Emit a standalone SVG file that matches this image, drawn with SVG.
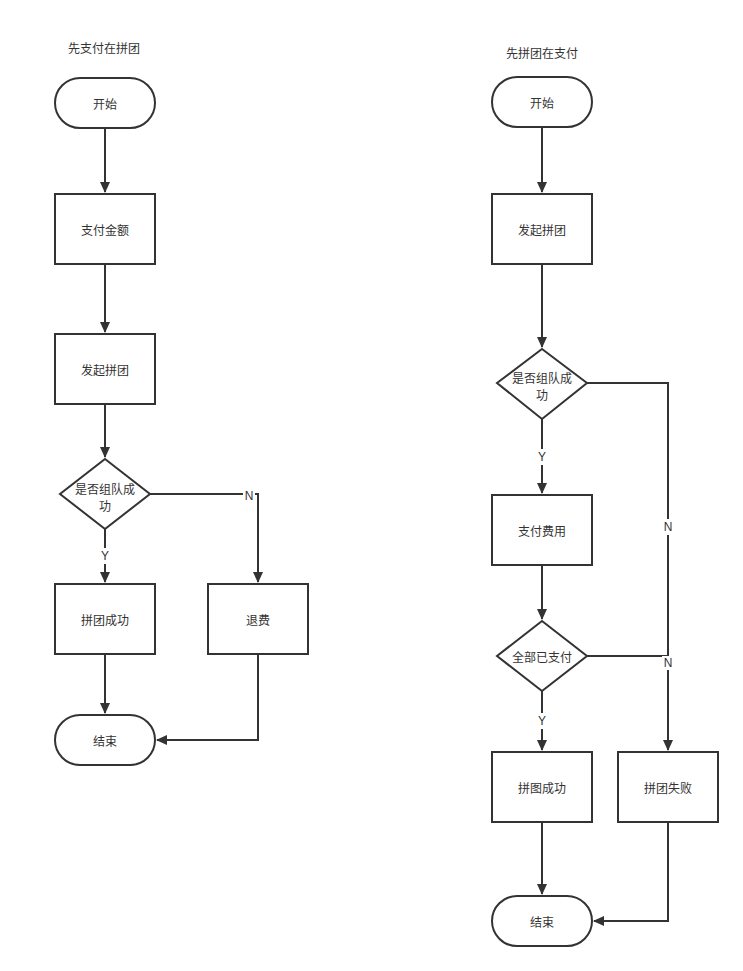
<svg xmlns="http://www.w3.org/2000/svg" width="743" height="971" viewBox="0 0 743 971">
<style>
.s{fill:#fff;stroke:#333;stroke-width:2}
.t{font-family:"Noto Sans CJK SC","Liberation Sans",sans-serif;font-size:12px;fill:#333;text-anchor:middle;dominant-baseline:central}
.e{fill:none;stroke:#333;stroke-width:2}
.l{font-family:"Liberation Sans","Noto Sans CJK SC",sans-serif;font-size:12px;fill:#333;text-anchor:middle;dominant-baseline:central}
.lb{fill:#fff}
</style>
<defs>
<marker id="a" markerWidth="12" markerHeight="12" refX="10" refY="6" orient="auto" markerUnits="userSpaceOnUse">
<path d="M0,1 L11,6 L0,11 Z" fill="#333"/>
</marker>
</defs>
<rect width="743" height="971" fill="#fff"/>
<text class="t" x="104" y="47">先支付在拼团</text>
<text class="t" x="542" y="52">先拼团在支付</text>
<g id="connectors">
<path class="e" d="M105,128 V192" marker-end="url(#a)"/>
<path class="e" d="M105,264 V332" marker-end="url(#a)"/>
<path class="e" d="M105,404 V457" marker-end="url(#a)"/>
<path class="e" d="M105,529 V582" marker-end="url(#a)"/>
<path class="e" d="M150,494 H258 V582" marker-end="url(#a)"/>
<path class="e" d="M105,654 V713" marker-end="url(#a)"/>
<path class="e" d="M258,654 V740 H157" marker-end="url(#a)"/>
<path class="e" d="M542,127 V192" marker-end="url(#a)"/>
<path class="e" d="M542,264 V347" marker-end="url(#a)"/>
<path class="e" d="M542,419 V493" marker-end="url(#a)"/>
<path class="e" d="M587,383 H668 V750" marker-end="url(#a)"/>
<path class="e" d="M542,565 V619" marker-end="url(#a)"/>
<path class="e" d="M542,691 V750" marker-end="url(#a)"/>
<path class="e" d="M587,656 H668"/>
<path class="e" d="M542,822 V894" marker-end="url(#a)"/>
<path class="e" d="M668,822 V921 H594" marker-end="url(#a)"/>
<rect class="lb" x="99" y="548" width="12" height="16"/>
<text class="l" x="105" y="556">Y</text>
<rect class="lb" x="243" y="488" width="12" height="14"/>
<text class="l" x="249" y="496">N</text>
<rect class="lb" x="536" y="449" width="12" height="16"/>
<text class="l" x="542" y="457">Y</text>
<rect class="lb" x="662" y="519" width="12" height="16"/>
<text class="l" x="668" y="527">N</text>
<rect class="lb" x="536" y="713" width="12" height="16"/>
<text class="l" x="542" y="721">Y</text>
<rect class="lb" x="662" y="656" width="12" height="14"/>
<text class="l" x="668" y="663">N</text>
</g>
<g id="L_start"><rect class="s" x="55" y="78" width="100" height="50" rx="25"/><text class="t" x="105" y="103">开始</text></g>
<g id="L_pay"><rect class="s" x="55" y="194" width="100" height="70"/><text class="t" x="105" y="229">支付金额</text></g>
<g id="L_group"><rect class="s" x="55" y="334" width="100" height="70"/><text class="t" x="105" y="369">发起拼团</text></g>
<g id="L_dec"><path class="s" d="M105,459 L150,494 L105,529 L60,494 Z"/><text class="t" x="105" y="488">是否组队成</text><text class="t" x="105" y="505">功</text></g>
<g id="L_ok"><rect class="s" x="55" y="584" width="100" height="70"/><text class="t" x="105" y="619">拼团成功</text></g>
<g id="L_refund"><rect class="s" x="208" y="584" width="100" height="70"/><text class="t" x="258" y="619">退费</text></g>
<g id="L_end"><rect class="s" x="55" y="715" width="100" height="50" rx="25"/><text class="t" x="105" y="740">结束</text></g>
<g id="R_start"><rect class="s" x="492" y="77" width="100" height="50" rx="25"/><text class="t" x="542" y="102">开始</text></g>
<g id="R_group"><rect class="s" x="492" y="194" width="100" height="70"/><text class="t" x="542" y="229">发起拼团</text></g>
<g id="R_dec1"><path class="s" d="M542,349 L587,383 L542,419 L497,383 Z"/><text class="t" x="542" y="377">是否组队成</text><text class="t" x="542" y="394">功</text></g>
<g id="R_pay"><rect class="s" x="492" y="495" width="100" height="70"/><text class="t" x="542" y="530">支付费用</text></g>
<g id="R_dec2"><path class="s" d="M542,621 L587,656 L542,691 L497,656 Z"/><text class="t" x="542" y="656">全部已支付</text></g>
<g id="R_ok"><rect class="s" x="492" y="752" width="100" height="70"/><text class="t" x="542" y="787">拼图成功</text></g>
<g id="R_fail"><rect class="s" x="618" y="752" width="100" height="70"/><text class="t" x="668" y="787">拼团失败</text></g>
<g id="R_end"><rect class="s" x="492" y="896" width="100" height="50" rx="25"/><text class="t" x="542" y="921">结束</text></g>
</svg>
